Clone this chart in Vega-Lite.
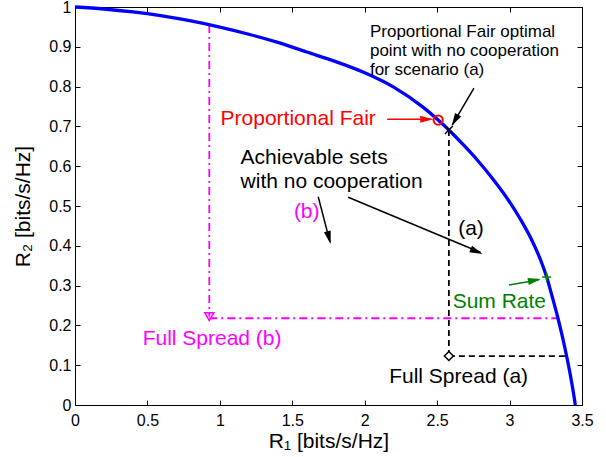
{
  "$schema": "https://vega.github.io/schema/vega-lite/v6.json",
  "width": 507,
  "height": 398,
  "autosize": {"type": "none"},
  "padding": {"left": 75, "top": 7, "right": 24, "bottom": 52},
  "background": "white",
  "config": {
    "view": {"stroke": null},
    "font": "Liberation Sans",
    "axis": {
      "domainColor": "black", "tickColor": "black", "labelColor": "black", "titleColor": "black",
      "labelFont": "Liberation Sans", "titleFont": "Liberation Sans",
      "labelFontSize": 16, "titleFontSize": 21, "titleFontWeight": "normal",
      "grid": false, "tickSize": -5, "labelFlush": false, "labelOverlap": false, "domainWidth": 1
    }
  },
  "resolve": {"axis": {"x": "independent", "y": "independent"}},
  "layer": [
    {
      "data": {"values": [{"x": 0, "y": 0}, {"x": 3.5, "y": 1}]},
      "mark": {"type": "rule", "opacity": 0},
      "encoding": {
        "x": {"field": "x", "type": "quantitative", "scale": {"domain": [0, 3.5], "nice": false, "zero": false},
              "axis": {"orient": "bottom", "values": [0, 0.5, 1, 1.5, 2, 2.5, 3, 3.5], "format": ".1~f",
                       "title": "R₁ [bits/s/Hz]", "labelPadding": 12, "titlePadding": 2}},
        "y": {"field": "y", "type": "quantitative", "scale": {"domain": [0, 1], "nice": false, "zero": false},
              "axis": {"orient": "left", "values": [0, 0.1, 0.2, 0.3, 0.4, 0.5, 0.6, 0.7, 0.8, 0.9, 1], "format": ".1~f",
                       "title": "R₂ [bits/s/Hz]", "labelPadding": 9, "titlePadding": 15}}
      }
    },
    {
      "data": {"values": [{"x": 0, "y": 0}, {"x": 3.5, "y": 1}]},
      "mark": {"type": "rule", "opacity": 0},
      "encoding": {
        "x": {"field": "x", "type": "quantitative", "scale": {"domain": [0, 3.5], "nice": false, "zero": false},
              "axis": {"orient": "top", "values": [0, 0.5, 1, 1.5, 2, 2.5, 3, 3.5], "labels": false, "title": null}},
        "y": {"field": "y", "type": "quantitative", "scale": {"domain": [0, 1], "nice": false, "zero": false},
              "axis": {"orient": "right", "values": [0, 0.1, 0.2, 0.3, 0.4, 0.5, 0.6, 0.7, 0.8, 0.9, 1], "labels": false, "title": null}}
      }
    },
    {
      "data": {"values": [
        {"x": 0.927, "y": 0.955, "x2": 0.927, "y2": 0.222},
        {"x": 0.927, "y": 0.218, "x2": 3.334, "y2": 0.218}
      ]},
      "mark": {"type": "rule", "color": "#FF00FF", "strokeWidth": 1.8, "strokeDash": [8, 4, 2, 4]},
      "encoding": {
        "x": {"field": "x", "type": "quantitative", "scale": {"domain": [0, 3.5], "nice": false, "zero": false}, "axis": null},
        "y": {"field": "y", "type": "quantitative", "scale": {"domain": [0, 1], "nice": false, "zero": false}, "axis": null},
        "x2": {"field": "x2"},
        "y2": {"field": "y2"}
      }
    },
    {
      "data": {"values": [
        {"x": 2.581, "y": 0.691, "x2": 2.581, "y2": 0.123},
        {"x": 2.581, "y": 0.123, "x2": 3.392, "y2": 0.123}
      ]},
      "mark": {"type": "rule", "color": "black", "strokeWidth": 1.8, "strokeDash": [6, 4]},
      "encoding": {
        "x": {"field": "x", "type": "quantitative", "scale": {"domain": [0, 3.5], "nice": false, "zero": false}, "axis": null},
        "y": {"field": "y", "type": "quantitative", "scale": {"domain": [0, 1], "nice": false, "zero": false}, "axis": null},
        "x2": {"field": "x2"},
        "y2": {"field": "y2"}
      }
    },
    {
      "data": {"values": [
        {"x": 0, "y": 1}, {"x": 0.2, "y": 0.995}, {"x": 0.4, "y": 0.9876}, {"x": 0.6, "y": 0.9776},
        {"x": 0.8, "y": 0.965}, {"x": 1.0, "y": 0.9496}, {"x": 1.2, "y": 0.9316}, {"x": 1.4, "y": 0.911},
        {"x": 1.6, "y": 0.8868}, {"x": 1.8, "y": 0.8628}, {"x": 2.0, "y": 0.8348}, {"x": 2.2, "y": 0.7988},
        {"x": 2.4, "y": 0.749}, {"x": 2.507, "y": 0.716}, {"x": 2.581, "y": 0.691}, {"x": 2.682, "y": 0.6533},
        {"x": 2.777, "y": 0.6156}, {"x": 2.89, "y": 0.5653}, {"x": 2.991, "y": 0.5151}, {"x": 3.078, "y": 0.4648},
        {"x": 3.153, "y": 0.4146}, {"x": 3.214, "y": 0.3643}, {"x": 3.256, "y": 0.3216}, {"x": 3.295, "y": 0.2714},
        {"x": 3.332, "y": 0.2211}, {"x": 3.365, "y": 0.1709}, {"x": 3.395, "y": 0.1206}, {"x": 3.422, "y": 0.0704},
        {"x": 3.44, "y": 0.0327}, {"x": 3.454, "y": 0}
      ]},
      "mark": {"type": "line", "color": "#0000FF", "strokeWidth": 3.3, "interpolate": "monotone"},
      "encoding": {
        "x": {"field": "x", "type": "quantitative", "scale": {"domain": [0, 3.5], "nice": false, "zero": false}, "axis": null},
        "y": {"field": "y", "type": "quantitative", "scale": {"domain": [0, 1], "nice": false, "zero": false}, "axis": null}
      }
    },
    {
      "data": {"values": [
        {"x": 2.155, "y": 0.718, "x2": 2.46, "y2": 0.718}
      ]},
      "mark": {"type": "rule", "color": "#FF0000", "strokeWidth": 1.5},
      "encoding": {
        "x": {"field": "x", "type": "quantitative", "scale": {"domain": [0, 3.5], "nice": false, "zero": false}, "axis": null},
        "y": {"field": "y", "type": "quantitative", "scale": {"domain": [0, 1], "nice": false, "zero": false}, "axis": null},
        "x2": {"field": "x2"},
        "y2": {"field": "y2"}
      }
    },
    {
      "data": {"values": [
        {"x": 2.754, "y": 0.796, "x2": 2.605, "y2": 0.704},
        {"x": 1.679, "y": 0.5234, "x2": 1.76, "y2": 0.41},
        {"x": 1.886, "y": 0.5219, "x2": 2.8, "y2": 0.383}
      ]},
      "mark": {"type": "rule", "color": "black", "strokeWidth": 1.5},
      "encoding": {
        "x": {"field": "x", "type": "quantitative", "scale": {"domain": [0, 3.5], "nice": false, "zero": false}, "axis": null},
        "y": {"field": "y", "type": "quantitative", "scale": {"domain": [0, 1], "nice": false, "zero": false}, "axis": null},
        "x2": {"field": "x2"},
        "y2": {"field": "y2"}
      }
    },
    {
      "data": {"values": [
        {"x": 2.995, "y": 0.3015, "x2": 3.2, "y2": 0.314}
      ]},
      "mark": {"type": "rule", "color": "#008000", "strokeWidth": 1.5},
      "encoding": {
        "x": {"field": "x", "type": "quantitative", "scale": {"domain": [0, 3.5], "nice": false, "zero": false}, "axis": null},
        "y": {"field": "y", "type": "quantitative", "scale": {"domain": [0, 1], "nice": false, "zero": false}, "axis": null},
        "x2": {"field": "x2"},
        "y2": {"field": "y2"}
      }
    },
    {
      "data": {"values": [{"x": 2.473, "y": 0.718}]},
      "mark": {"type": "point", "shape": "M0,0L0.27,1L-0.27,1Z", "filled": true, "opacity": 1, "color": "#FF0000", "size": 676, "angle": 90, "strokeWidth": 0},
      "encoding": {
        "x": {"field": "x", "type": "quantitative", "scale": {"domain": [0, 3.5], "nice": false, "zero": false}, "axis": null},
        "y": {"field": "y", "type": "quantitative", "scale": {"domain": [0, 1], "nice": false, "zero": false}, "axis": null}
      }
    },
    {
      "data": {"values": [{"x": 2.60, "y": 0.701}]},
      "mark": {"type": "point", "shape": "M0,0L0.27,1L-0.27,1Z", "filled": true, "opacity": 1, "color": "black", "size": 676, "angle": 210, "strokeWidth": 0},
      "encoding": {
        "x": {"field": "x", "type": "quantitative", "scale": {"domain": [0, 3.5], "nice": false, "zero": false}, "axis": null},
        "y": {"field": "y", "type": "quantitative", "scale": {"domain": [0, 1], "nice": false, "zero": false}, "axis": null}
      }
    },
    {
      "data": {"values": [{"x": 1.765, "y": 0.4045}]},
      "mark": {"type": "point", "shape": "M0,0L0.27,1L-0.27,1Z", "filled": true, "opacity": 1, "color": "black", "size": 676, "angle": 165, "strokeWidth": 0},
      "encoding": {
        "x": {"field": "x", "type": "quantitative", "scale": {"domain": [0, 3.5], "nice": false, "zero": false}, "axis": null},
        "y": {"field": "y", "type": "quantitative", "scale": {"domain": [0, 1], "nice": false, "zero": false}, "axis": null}
      }
    },
    {
      "data": {"values": [{"x": 2.814, "y": 0.3794}]},
      "mark": {"type": "point", "shape": "M0,0L0.27,1L-0.27,1Z", "filled": true, "opacity": 1, "color": "black", "size": 676, "angle": 113, "strokeWidth": 0},
      "encoding": {
        "x": {"field": "x", "type": "quantitative", "scale": {"domain": [0, 3.5], "nice": false, "zero": false}, "axis": null},
        "y": {"field": "y", "type": "quantitative", "scale": {"domain": [0, 1], "nice": false, "zero": false}, "axis": null}
      }
    },
    {
      "data": {"values": [{"x": 3.216, "y": 0.3166}]},
      "mark": {"type": "point", "shape": "M0,0L0.27,1L-0.27,1Z", "filled": true, "opacity": 1, "color": "#008000", "size": 676, "angle": 79, "strokeWidth": 0},
      "encoding": {
        "x": {"field": "x", "type": "quantitative", "scale": {"domain": [0, 3.5], "nice": false, "zero": false}, "axis": null},
        "y": {"field": "y", "type": "quantitative", "scale": {"domain": [0, 1], "nice": false, "zero": false}, "axis": null}
      }
    },
    {
      "data": {"values": [{"x": 2.507, "y": 0.716}]},
      "mark": {"type": "point", "shape": "circle", "filled": false, "opacity": 1, "color": "#FF0000", "size": 85, "strokeWidth": 2},
      "encoding": {
        "x": {"field": "x", "type": "quantitative", "scale": {"domain": [0, 3.5], "nice": false, "zero": false}, "axis": null},
        "y": {"field": "y", "type": "quantitative", "scale": {"domain": [0, 1], "nice": false, "zero": false}, "axis": null}
      }
    },
    {
      "data": {"values": [{"x": 2.581, "y": 0.691}]},
      "mark": {"type": "point", "shape": "M-1,-1L1,1M-1,1L1,-1", "filled": false, "opacity": 1, "color": "black", "size": 64, "strokeWidth": 1.5},
      "encoding": {
        "x": {"field": "x", "type": "quantitative", "scale": {"domain": [0, 3.5], "nice": false, "zero": false}, "axis": null},
        "y": {"field": "y", "type": "quantitative", "scale": {"domain": [0, 1], "nice": false, "zero": false}, "axis": null}
      }
    },
    {
      "data": {"values": [{"x": 3.256, "y": 0.3216}]},
      "mark": {"type": "point", "shape": "M-1,0L1,0M0,-1L0,1", "filled": false, "opacity": 1, "color": "#008000", "size": 81, "strokeWidth": 1.5},
      "encoding": {
        "x": {"field": "x", "type": "quantitative", "scale": {"domain": [0, 3.5], "nice": false, "zero": false}, "axis": null},
        "y": {"field": "y", "type": "quantitative", "scale": {"domain": [0, 1], "nice": false, "zero": false}, "axis": null}
      }
    },
    {
      "data": {"values": [{"x": 0.927, "y": 0.222}]},
      "mark": {"type": "point", "shape": "triangle-down", "filled": false, "opacity": 1, "color": "#FF00FF", "size": 80, "strokeWidth": 1.5},
      "encoding": {
        "x": {"field": "x", "type": "quantitative", "scale": {"domain": [0, 3.5], "nice": false, "zero": false}, "axis": null},
        "y": {"field": "y", "type": "quantitative", "scale": {"domain": [0, 1], "nice": false, "zero": false}, "axis": null}
      }
    },
    {
      "data": {"values": [{"x": 2.581, "y": 0.123}]},
      "mark": {"type": "point", "shape": "diamond", "filled": true, "fill": "white", "opacity": 1, "stroke": "black", "size": 80, "strokeWidth": 1.5},
      "encoding": {
        "x": {"field": "x", "type": "quantitative", "scale": {"domain": [0, 3.5], "nice": false, "zero": false}, "axis": null},
        "y": {"field": "y", "type": "quantitative", "scale": {"domain": [0, 1], "nice": false, "zero": false}, "axis": null}
      }
    },
    {
      "data": {"values": [{"x": 1.005, "y": 0.7035, "text": "Proportional Fair"}]},
      "mark": {"type": "text", "align": "left", "baseline": "alphabetic", "font": "Liberation Sans", "fontSize": 21, "color": "#FF0000"},
      "encoding": {
        "x": {"field": "x", "type": "quantitative", "scale": {"domain": [0, 3.5], "nice": false, "zero": false}, "axis": null},
        "y": {"field": "y", "type": "quantitative", "scale": {"domain": [0, 1], "nice": false, "zero": false}, "axis": null},
        "text": {"field": "text"}
      }
    },
    {
      "data": {"values": [
        {"x": 2.036, "y": 0.9254, "text": "Proportional Fair optimal"},
        {"x": 2.036, "y": 0.8776, "text": "point with no cooperation"},
        {"x": 2.036, "y": 0.8299, "text": "for scenario (a)"}
      ]},
      "mark": {"type": "text", "align": "left", "baseline": "alphabetic", "font": "Liberation Sans", "fontSize": 17, "color": "black"},
      "encoding": {
        "x": {"field": "x", "type": "quantitative", "scale": {"domain": [0, 3.5], "nice": false, "zero": false}, "axis": null},
        "y": {"field": "y", "type": "quantitative", "scale": {"domain": [0, 1], "nice": false, "zero": false}, "axis": null},
        "text": {"field": "text"}
      }
    },
    {
      "data": {"values": [
        {"x": 1.143, "y": 0.6055, "text": "Achievable sets"},
        {"x": 1.143, "y": 0.5444, "text": "with no cooperation"},
        {"x": 2.645, "y": 0.427, "text": "(a)"},
        {"x": 2.169, "y": 0.056, "text": "Full Spread (a)"}
      ]},
      "mark": {"type": "text", "align": "left", "baseline": "alphabetic", "font": "Liberation Sans", "fontSize": 21, "color": "black"},
      "encoding": {
        "x": {"field": "x", "type": "quantitative", "scale": {"domain": [0, 3.5], "nice": false, "zero": false}, "axis": null},
        "y": {"field": "y", "type": "quantitative", "scale": {"domain": [0, 1], "nice": false, "zero": false}, "axis": null},
        "text": {"field": "text"}
      }
    },
    {
      "data": {"values": [
        {"x": 1.511, "y": 0.47, "text": "(b)"},
        {"x": 0.467, "y": 0.1508, "text": "Full Spread (b)"}
      ]},
      "mark": {"type": "text", "align": "left", "baseline": "alphabetic", "font": "Liberation Sans", "fontSize": 21, "color": "#FF00FF"},
      "encoding": {
        "x": {"field": "x", "type": "quantitative", "scale": {"domain": [0, 3.5], "nice": false, "zero": false}, "axis": null},
        "y": {"field": "y", "type": "quantitative", "scale": {"domain": [0, 1], "nice": false, "zero": false}, "axis": null},
        "text": {"field": "text"}
      }
    },
    {
      "data": {"values": [
        {"x": 2.607, "y": 0.243, "text": "Sum Rate"}
      ]},
      "mark": {"type": "text", "align": "left", "baseline": "alphabetic", "font": "Liberation Sans", "fontSize": 21, "color": "#008000"},
      "encoding": {
        "x": {"field": "x", "type": "quantitative", "scale": {"domain": [0, 3.5], "nice": false, "zero": false}, "axis": null},
        "y": {"field": "y", "type": "quantitative", "scale": {"domain": [0, 1], "nice": false, "zero": false}, "axis": null},
        "text": {"field": "text"}
      }
    }
  ]
}
